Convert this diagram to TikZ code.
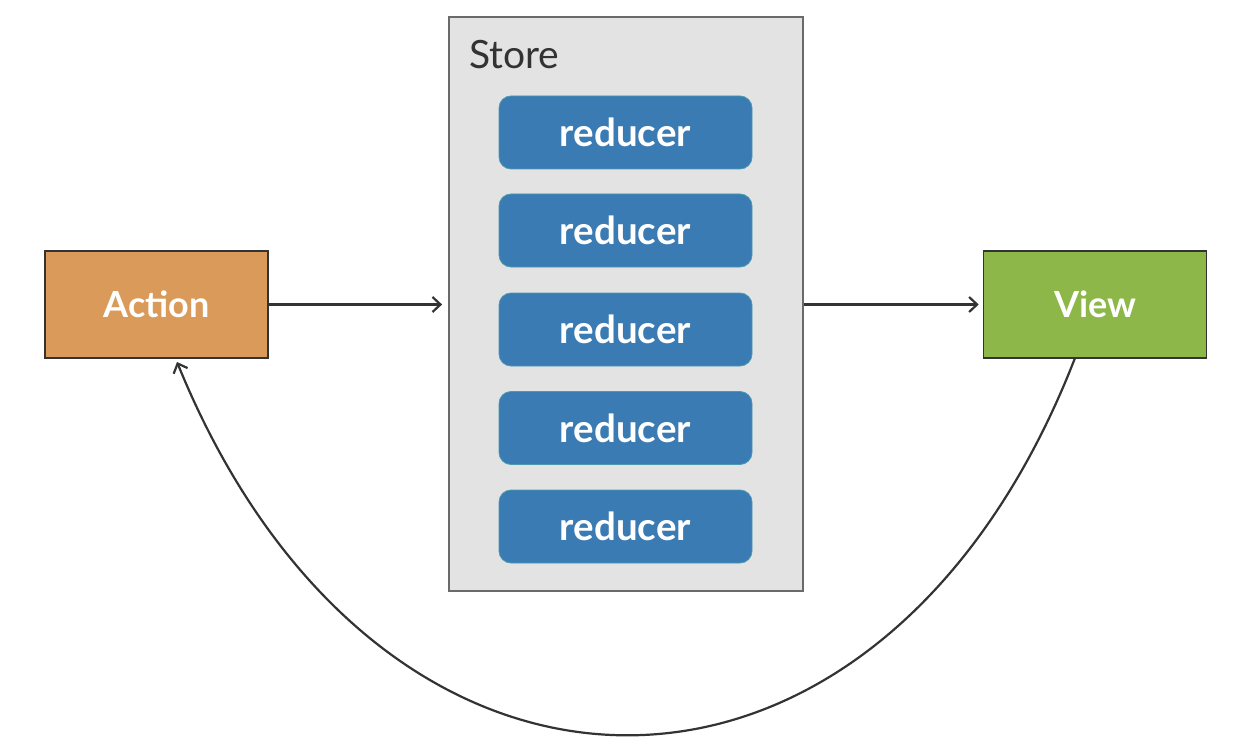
\documentclass[tikz,border=0pt]{standalone}
\usepackage{fontspec}
\setmainfont{Lato}
\usetikzlibrary{arrows.meta}
\definecolor{actionfill}{HTML}{D99A5A}
\definecolor{viewfill}{HTML}{8DB849}
\definecolor{reducerfill}{HTML}{3A7BB4}
\definecolor{reduceredge}{HTML}{4A9AB0}
\definecolor{storefill}{HTML}{E3E3E3}
\definecolor{storeedge}{HTML}{6A6A6A}
\definecolor{ink}{HTML}{333333}
\tikzset{
  box/.style={draw=ink, line width=1.6pt, minimum width=223pt, minimum height=107pt,
    inner sep=0pt, text=white, font=\bfseries\fontsize{36}{40}\selectfont},
  reducerbox/.style={draw=reduceredge, line width=0.8pt, fill=reducerfill, rounded corners=12pt,
    minimum width=253pt, minimum height=73pt, inner sep=0pt, text=white,
    font=\bfseries\fontsize{38.5}{42}\selectfont},
  flow/.style={draw=ink, line width=2.2pt, -{Straight Barb[length=8pt,width=15pt,line width=2.2pt]}}
}
\begin{document}
\begin{tikzpicture}[x=1pt,y=-1pt]
  \useasboundingbox (0,0) rectangle (1258,746);
  % the store container with its reducers
  \node[draw=storeedge, fill=storefill, line width=1.8pt, minimum width=354pt, minimum height=574pt,
        inner sep=0pt] (store) at (626,304) {};
  \node[anchor=base west, text=ink, font=\fontsize{39}{42}\selectfont, inner sep=0pt] (storelabel) at (469,69) {Store};
  \node[reducerbox] (r1) at (625.5,132.5) {reducer};
  \node[reducerbox] (r2) at (625.5,230.5) {reducer};
  \node[reducerbox] (r3) at (625.5,329.5) {reducer};
  \node[reducerbox] (r4) at (625.5,428) {reducer};
  \node[reducerbox] (r5) at (625.5,526.5) {reducer};
  % action and view
  \node[box, fill=actionfill] (action) at (156.5,304.5) {Action};
  \node[box, fill=viewfill] (view) at (1095,304.5) {View};
  % data flow
  \draw[flow, shorten >=6pt] (action.east) -- (store.west |- action.east);
  \draw[flow, shorten >=4pt] (store.east |- view.west) -- (view.west);
  \coordinate (vstart) at (1075,358);
  \coordinate (aend) at (177,362);
  \draw[flow] (vstart) .. controls (880,860) and (380,860) .. (aend);
\end{tikzpicture}
\end{document}
